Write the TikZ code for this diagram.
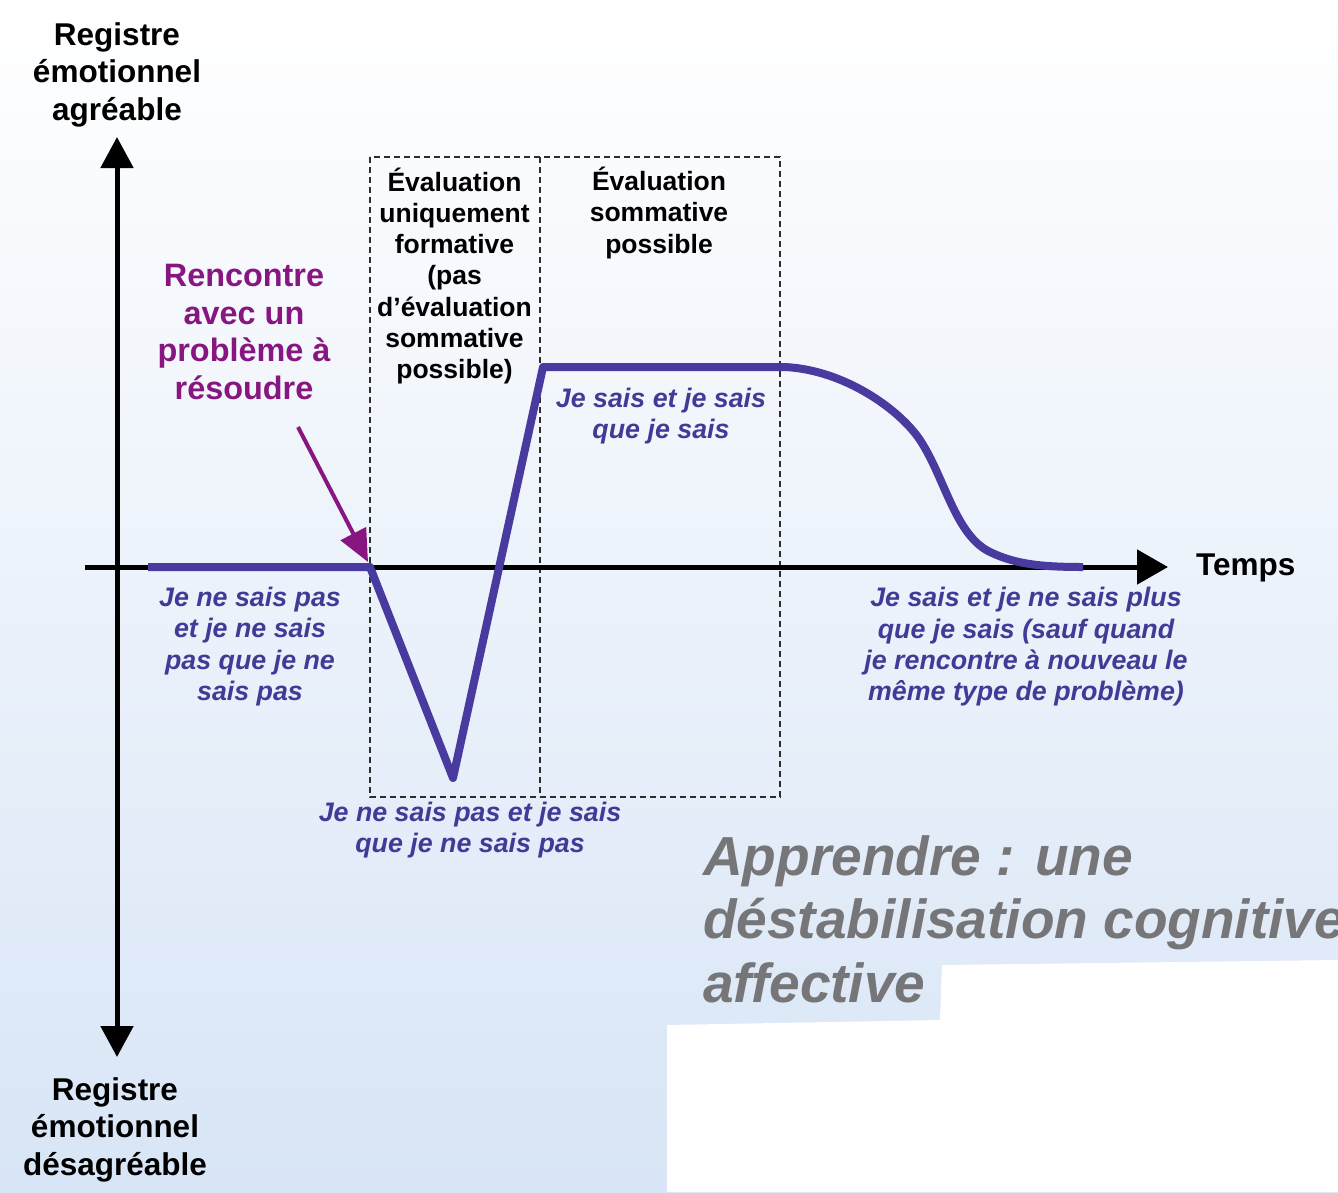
\documentclass[tikz,border=0pt]{standalone}
\usepackage{fontspec}
\setmainfont{Liberation Sans}
\usetikzlibrary{arrows.meta}
\definecolor{bgblue}{RGB}{216,229,246}
\definecolor{curveblue}{RGB}{72,58,158}
\definecolor{textblue}{RGB}{66,58,150}
\definecolor{arrowpurple}{RGB}{136,22,128}
\definecolor{titlegray}{RGB}{118,118,120}
\definecolor{dashgray}{RGB}{45,45,45}
\tikzset{
  axisline/.style={line width=5pt, black},
  curveline/.style={line width=8pt, curveblue, line join=round},
  dashbox/.style={line width=1.6pt, dashgray, dash pattern=on 6pt off 4pt},
  axislabel/.style={font=\bfseries\fontsize{31.5}{37.5}\selectfont, align=center, inner sep=0pt},
  purplelabel/.style={font=\bfseries\fontsize{32.4}{37.6}\selectfont, align=center, inner sep=0pt, text=arrowpurple},
  boxlabel/.style={font=\bfseries\fontsize{26.5}{31.2}\selectfont, align=center, inner sep=0pt},
  bluelabel/.style={font=\bfseries\itshape\fontsize{26.8}{31.3}\selectfont, align=center, inner sep=0pt, text=textblue},
  graylabel/.style={font=\bfseries\itshape\fontsize{55}{63.5}\selectfont, align=left, inner sep=0pt, text=titlegray}
}
\begin{document}
\begin{tikzpicture}[x=1pt,y=-1pt]
\useasboundingbox (0,0) rectangle (1338,1192);
\shade[top color=white, bottom color=bgblue] (0,0) rectangle (1338,1192);
\fill[white] (667,1192) -- (667,1025) -- (940,1020) -- (942,965) -- (1338,960) -- (1338,1192) -- cycle;

% dashed boxes
\coordinate (btl) at (370,157);
\coordinate (bbr) at (780,797);
\coordinate (midtop) at (540,157);
\coordinate (midbot) at (540,797);
\draw[dashbox] (btl) rectangle (bbr);
\draw[dashbox] (midtop) -- (midbot);

% axes
\coordinate (vtop) at (117,137);
\coordinate (vbot) at (117,1057);
\coordinate (hleft) at (85,567);
\coordinate (hright) at (1168,567);
\draw[axisline, {Triangle[length=31pt,width=32pt]}-{Triangle[length=31pt,width=32pt]}] (vbot) -- (vtop);
\draw[axisline, -{Triangle[length=31pt,width=34pt]}] (hleft) -- (hright);

% curve
\coordinate (c0) at (148,567);
\coordinate (c1) at (370,567);
\coordinate (c2) at (453,778);
\coordinate (c3) at (543,367);
\coordinate (c4) at (785,367);
\coordinate (c5) at (920,440);
\coordinate (c6) at (990,552);
\coordinate (c7) at (1083,567);
\draw[curveline] (c0) -- (c1) -- (c2) -- (c3) -- (c4)
  .. controls (845,370) and (900,410) .. (c5)
  .. controls (945,478) and (955,535) .. (c6)
  .. controls (1015,564) and (1040,567) .. (c7);

% purple arrow
\coordinate (pstart) at (298,427);
\coordinate (pend) at (368,562);
\draw[line width=4pt, arrowpurple, -{Triangle[length=32pt,width=28pt]}] (pstart) -- (pend);

% labels
\node[axislabel] (agreable) at (117,74.5) {Registre\\émotionnel\\agréable};
\node[axislabel] (desagreable) at (115,1129.5) {Registre\\émotionnel\\désagréable};
\node[axislabel, anchor=base west] (temps) at (1196,575) {Temps};
\node[purplelabel] (rencontre) at (244,332) {Rencontre\\avec un\\problème à\\résoudre};
\node[boxlabel] (formative) at (454.5,275.8) {Évaluation\\uniquement\\formative\\(pas\\d’évaluation\\sommative\\possible)};
\node[boxlabel] (sommative) at (659,213) {Évaluation\\sommative\\possible};
\node[bluelabel] (jsjs) at (661,416) {Je sais et je sais\\que je sais};
\node[bluelabel] (jnsp) at (250,646.5) {Je ne sais pas\\et je ne sais\\pas que je ne\\sais pas};
\node[bluelabel] (jnspjs) at (470,830) {Je ne sais pas et je sais\\que je ne sais pas};
\node[bluelabel] (jsjnsp) at (1026,647) {Je sais et je ne sais plus\\que je sais (sauf quand\\je rencontre à nouveau le\\même type de problème)};
\node[graylabel, anchor=north west] (apprendre) at (703,835) {Apprendre : une\\déstabilisation cognitive\\affective};
\end{tikzpicture}
\end{document}
